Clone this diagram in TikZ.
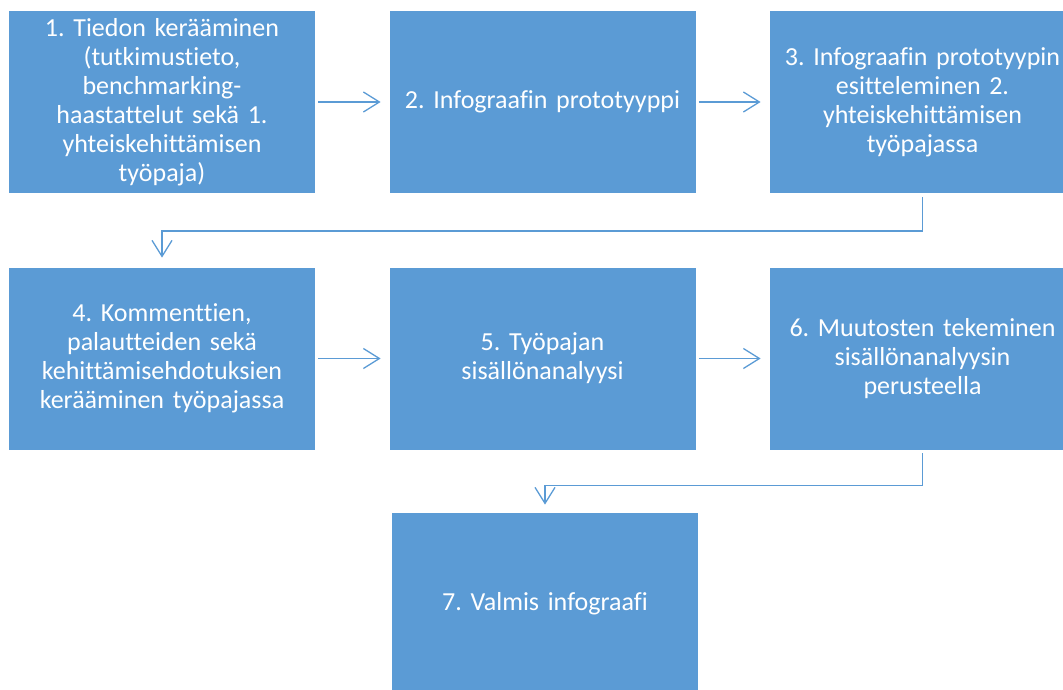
\documentclass[tikz,border=0pt]{standalone}
\usepackage{fontspec}
\setmainfont{Carlito}[Ligatures={NoCommon,NoDiscretionary}]
\usetikzlibrary{arrows.meta}
\definecolor{boxblue}{HTML}{5B9BD5}
\frenchspacing
\tikzset{
  stepbox/.style={fill=boxblue, draw=white, line width=0.8pt, minimum width=307pt, minimum height=183pt,
    text width=300pt, align=center, inner sep=0pt, text=white, font=\fontsize{26}{29}\selectfont\frenchspacing},
  arr/.style={draw=boxblue, line width=1.3pt, -{Straight Barb[length=16pt, width=20pt, line width=1.3pt]}}
}
\begin{document}
\begin{tikzpicture}[x=1pt,y=1pt]
\clip (0,0) rectangle (1063,-690);
\node[stepbox] (b1) at (162,-102) {1. Tiedon kerääminen\\(tutkimustieto,\\benchmarking-\\haastattelut sekä 1.\\yhteiskehittämisen\\työpaja)};
\node[stepbox] (b2) at (542.5,-102) {2. Infograafin prototyyppi};
\node[stepbox] (b3) at (922.5,-102) {3. Infograafin prototyypin\\esitteleminen 2.\\yhteiskehittämisen\\työpajassa};
\node[stepbox] (b4) at (162,-358.5) {4. Kommenttien,\\palautteiden sekä\\kehittämisehdotuksien\\kerääminen työpajassa};
\node[stepbox] (b5) at (542.5,-358.5) {5. Työpajan\\sisällönanalyysi};
\node[stepbox] (b6) at (922.5,-358.5) {6. Muutosten tekeminen\\sisällönanalyysin\\perusteella};
\node[stepbox] (b7) at (545,-603.5) {7. Valmis infograafi};
\draw[arr] ([xshift=2.5pt]b1.east) -- ([xshift=-8pt]b2.west);
\draw[arr] ([xshift=2.5pt]b2.east) -- ([xshift=-8pt]b3.west);
\draw[arr] ([xshift=2.5pt]b4.east) -- ([xshift=-8pt]b5.west);
\draw[arr] ([xshift=2.5pt]b5.east) -- ([xshift=-8pt]b6.west);
\draw[arr] ([yshift=-3pt]b3.south) -- ++(0,-34) -| ([yshift=9pt]b4.north);
\draw[arr] ([yshift=-3pt]b6.south) -- ++(0,-32) -| ([yshift=7pt]b7.north);
\end{tikzpicture}
\end{document}
